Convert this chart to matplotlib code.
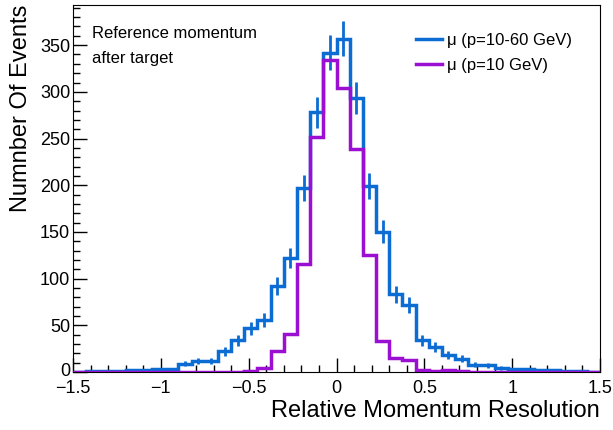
import numpy as np
import matplotlib
matplotlib.use("Agg")
from matplotlib import pyplot as plt
from matplotlib import transforms
from matplotlib.ticker import MultipleLocator, FuncFormatter

#-----------------------------------------------------------------------------------------

bin_edges = np.linspace(-1.5, 1.5, 41)

mu_10_60 = [0, 1, 1, 1, 2, 2, 3, 3, 9, 12,
            12, 22, 34, 47, 56, 92, 122, 197, 278, 342,
            357, 293, 199, 150, 83, 72, 34, 27, 18, 14,
            8, 7, 4, 3, 3, 2, 2, 1, 1, 0]

mu_10 = [0, 0, 0, 0, 0, 0, 0, 0, 0, 0,
         0, 0, 0, 1, 4, 22, 41, 116, 252, 334,
         304, 239, 125, 33, 15, 13, 2, 1, 2, 1,
         0, 0, 0, 0, 0, 0, 0, 0, 0, 0]

label_10_60 = "\u03bc (p=10-60 GeV)"
label_10 = "\u03bc (p=10 GeV)"

#-----------------------------------------------------------------------------------------

plt.rcParams['font.family'] = ['Liberation Sans', 'DejaVu Sans']

blue = '#0b6cd4'
purple = '#9b0fd2'

fig = plt.figure(figsize=(6.13, 4.30), dpi=100)
ax = fig.add_axes([73/613, 58/430, 527/613, 367/430])

centers = 0.5*(bin_edges[1:] + bin_edges[:-1])
counts_b = np.array(mu_10_60, dtype=float)
counts_p = np.array(mu_10, dtype=float)

ax.stairs(counts_b, bin_edges, color=blue, lw=2.5, label=label_10_60, zorder=3)
mask = counts_b > 0
ax.errorbar(centers[mask], counts_b[mask], yerr=np.sqrt(counts_b[mask]),
            fmt='none', ecolor=blue, elinewidth=2.0, capsize=0, zorder=3)
ax.stairs(counts_p, bin_edges, color=purple, lw=2.5, label=label_10, zorder=4)

ax.set_xlim(-1.5, 1.5)
ax.set_ylim(0, 393)

ax.xaxis.set_major_locator(MultipleLocator(0.5))
ax.xaxis.set_minor_locator(MultipleLocator(0.1))
ax.set_yticks(np.arange(0, 351, 50))
ax.yaxis.set_minor_locator(MultipleLocator(10))
ax.xaxis.set_major_formatter(FuncFormatter(lambda v, p: ('%g' % v).replace('-', '\u2212')))

ax.tick_params(which='both', direction='in', top=False, right=False, labelsize=13)
ax.tick_params(which='major', length=10, width=1)
ax.tick_params(which='minor', length=5, width=1)
ax.tick_params(axis='x', pad=6)
ax.tick_params(axis='y', pad=2)

# nudge the "0" on the y axis up so it clears the "-1.5" below it
zero_lab = ax.get_yticklabels()[0]
zero_lab.set_transform(zero_lab.get_transform() +
                       transforms.ScaledTranslation(0, 3/100, fig.dpi_scale_trans))

ax.set_xlabel('Relative Momentum Resolution', fontsize=17, ha='right', x=1.0)
ax.set_ylabel('Numnber Of Events', fontsize=17, ha='right', y=1.0)
ax.xaxis.set_label_coords(1.0, -0.075)
ax.yaxis.set_label_coords(-0.078, 1.0)

fig.text(92/613, 1 - 33/430, 'Reference momentum', fontsize=12, va='center', ha='left')
fig.text(92/613, 1 - 59/430, 'after target', fontsize=12, va='center', ha='left')

leg = ax.legend(loc='upper left', bbox_to_anchor=(409/613, 1 - 26/430),
                bbox_transform=fig.transFigure, frameon=False, fontsize=12,
                handlelength=1.6, handletextpad=0.3, labelspacing=0.6,
                borderaxespad=0)

fig.savefig("out.png", dpi=100)
